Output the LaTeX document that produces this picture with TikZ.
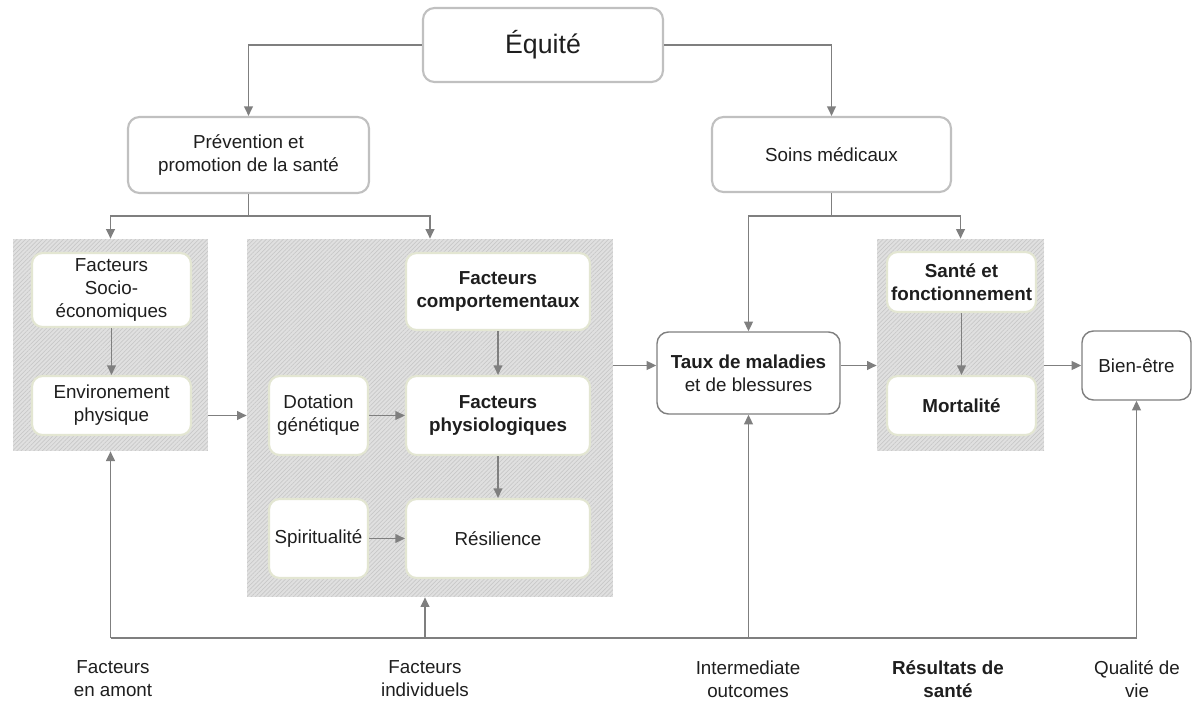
\documentclass[tikz,border=0pt]{standalone}
\usepackage{fontspec}
\setmainfont{Liberation Sans}
\usetikzlibrary{arrows.meta,patterns.meta}

\definecolor{linegray}{HTML}{7F7F7F}
\definecolor{boxgray}{HTML}{C0C0C0}
\definecolor{panelgray}{HTML}{E0E0E0}
\definecolor{hatchgray}{HTML}{C8C8C8}
\definecolor{paleborder}{HTML}{E3E6D2}
\definecolor{textgray}{HTML}{1E1E1E}

\begin{document}
\begin{tikzpicture}[x=0.02cm,y=-0.02cm,
  every node/.style={text=textgray,font=\fontsize{10.7}{13}\selectfont,align=center,inner sep=0pt},
  topbox/.style={rectangle,rounded corners=6.5pt,draw=boxgray,line width=1.2pt,fill=white},
  panel/.style={rectangle,fill=panelgray,postaction={pattern color=hatchgray,pattern={Lines[angle=45,distance=1.7pt,line width=0.4pt]}}},
  innerbox/.style={rectangle,rounded corners=6pt,draw=paleborder,line width=1.2pt,fill=white},
  keybox/.style={rectangle,rounded corners=6.5pt,draw=linegray,line width=0.8pt,fill=white},
  arr/.style={draw=linegray,line width=0.9pt,-{Triangle[length=5.5pt,width=5pt]}},
  link/.style={draw=linegray,line width=0.9pt}]

\useasboundingbox (0,0) rectangle (1199,700);

\node (equite) at (543,45) [topbox, minimum width=4.8cm, minimum height=1.48cm, font=\fontsize{15.2}{18}\selectfont]{Équité};

\node (prev) at (248.5,155) [topbox, minimum width=4.82cm, minimum height=1.52cm]{Prévention et\\promotion de la santé};
\node (soins) at (831.5,154.5) [topbox, minimum width=4.78cm, minimum height=1.5cm]{Soins médicaux};

\node (panelL) at (110.5,345) [panel, minimum width=3.9cm, minimum height=4.24cm]{};
\node (panelM) at (430,418) [panel, minimum width=7.32cm, minimum height=7.16cm]{};
\node (panelR) at (960.5,345) [panel, minimum width=3.34cm, minimum height=4.24cm]{};

\node (socio) at (111.5,290) [innerbox, minimum width=3.18cm, minimum height=1.48cm]{Facteurs\\Socio-\\économiques};
\node (envir) at (111.5,405.5) [innerbox, minimum width=3.18cm, minimum height=1.18cm]{Environement\\physique};

\node (comport) at (498,291.5) [innerbox, minimum width=3.68cm, minimum height=1.54cm]{\textbf{Facteurs}\\\textbf{comportementaux}};
\node (physio) at (498,415.5) [innerbox, minimum width=3.68cm, minimum height=1.58cm]{\textbf{Facteurs}\\\textbf{physiologiques}};
\node (resil) at (498,538.5) [innerbox, minimum width=3.68cm, minimum height=1.58cm]{Résilience};
\node (dotation) at (318.5,415.5) [innerbox, minimum width=1.98cm, minimum height=1.58cm]{Dotation\\génétique};
\node (spirit) at (318.5,538.5) [innerbox, minimum width=1.98cm, minimum height=1.58cm]{Spiritualité};

\node (taux) at (748.5,373) [keybox, minimum width=3.66cm, minimum height=1.64cm]{\textbf{Taux de maladies}\\et de blessures};

\node (sante) at (961.5,282) [innerbox, minimum width=2.98cm, minimum height=1.2cm]{\textbf{Santé et}\\\textbf{fonctionnement}};
\node (mortal) at (961.5,405.5) [innerbox, minimum width=2.98cm, minimum height=1.18cm]{\textbf{Mortalité}};

\node (bien) at (1136.5,365.5) [keybox, minimum width=2.18cm, minimum height=1.38cm]{Bien-être};

\node (amont) at (113,679) {Facteurs\\en amont};
\node (indiv) at (425,679) {Facteurs\\individuels};
\node (inter) at (748,679) {Intermediate\\outcomes};
\node (result) at (948,679) {\textbf{Résultats de}\\\textbf{santé}};
\node (qualite) at (1137,679) {Qualité de\\vie};

\coordinate (pj) at (248.5,216);
\coordinate (sj) at (831.5,216);
\coordinate (bl) at (110.5,638);
\coordinate (bm) at (425,638);
\coordinate (bt) at (748.5,638);
\coordinate (br) at (1136.5,638);

\draw [arr] (equite.west) -| (prev.north);
\draw [arr] (equite.east) -| (soins.north);

\draw [link] (prev.south) -- (pj);
\draw [arr] (pj) -| (panelL.north);
\draw [arr] (pj) -| (panelM.north);

\draw [link] (soins.south) -- (sj);
\draw [arr] (sj) -| (taux.north);
\draw [arr] (sj) -| (panelR.north);

\draw [arr] (socio) to (envir);
\draw [arr] (comport) to (physio);
\draw [arr] (physio) to (resil);
\draw [arr] (dotation) to (physio);
\draw [arr] (spirit) to (resil);
\draw [arr] (sante) to (mortal);

\draw [arr] (panelL.east |- dotation) to (panelM.west |- dotation);
\draw [arr] (panelM.east |- bien) to (taux.west |- bien);
\draw [arr] (taux.east |- bien) to (panelR.west |- bien);
\draw [arr] (panelR.east |- bien) to (bien.west);

\draw [link] (bl) -- (br);
\draw [arr] (bl) to (panelL.south);
\draw [arr] (bm) to (bm |- panelM.south);
\draw [arr] (bt) to (taux.south);
\draw [arr] (br) to (bien.south);

\end{tikzpicture}
\end{document}
